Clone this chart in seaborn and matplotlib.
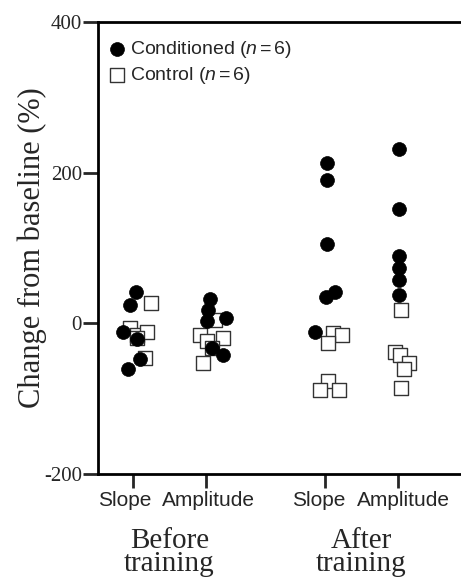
import matplotlib
matplotlib.use("Agg")
import matplotlib.pyplot as plt
import seaborn as sns
import pandas as pd

# values (% change from baseline)
measures = ["Slope", "Amplitude", "Slope", "Amplitude"]
phases = ["Before\ntraining", "After\ntraining"]

cond_before_slope = [41, 24, -12, -21, -48, -60]
cond_before_amp = [32, 18, 3, 7, -33, -42]
cond_after_slope = [213, 190, 105, 41, 35, -11]
cond_after_amp = [232, 152, 89, 73, 57, 37]

ctrl_before_slope = [27, -6, -15, -12, -46, -20]
ctrl_before_amp = [4, -15, -24, -20, -53, -33]
ctrl_after_slope = [-13, -15, -26, -77, -88, -88]
ctrl_after_amp = [18, -38, -42, -53, -60, -86]

# horizontal scatter of each point, in tick spacings
cond_before_slope_dx = [0.04, -0.04, -0.14, 0.05, 0.10, -0.07]
cond_before_amp_dx = [0.05, 0.03, 0.01, 0.27, 0.08, 0.23]
cond_after_slope_dx = [0.03, 0.03, 0.03, 0.14, 0.01, -0.14]
cond_after_amp_dx = [0.02, 0.02, 0.02, 0.02, 0.02, 0.02]

ctrl_before_slope_dx = [0.25, -0.04, 0.05, 0.19, 0.16, 0.05]
ctrl_before_amp_dx = [0.13, -0.08, 0.01, 0.23, -0.04, 0.08]
ctrl_after_slope_dx = [0.11, 0.23, 0.04, 0.04, -0.07, 0.19]
ctrl_after_amp_dx = [0.04, -0.04, 0.03, 0.15, 0.08, 0.04]

tick_pos = [0, 1, 2.63, 3.63]
# the printed labels sit slightly apart from their tick marks
label_pos = [-0.11, 1.04, 2.55, 3.71]


def build(group, vals_list, dx_list):
    rows = []
    for i, (vals, dxs) in enumerate(zip(vals_list, dx_list)):
        for v, d in zip(vals, dxs):
            rows.append({"group": group, "measure": i, "x": tick_pos[i] + d, "value": v})
    return pd.DataFrame(rows)


cond = build("Conditioned",
             [cond_before_slope, cond_before_amp, cond_after_slope, cond_after_amp],
             [cond_before_slope_dx, cond_before_amp_dx, cond_after_slope_dx, cond_after_amp_dx])
ctrl = build("Control",
             [ctrl_before_slope, ctrl_before_amp, ctrl_after_slope, ctrl_after_amp],
             [ctrl_before_slope_dx, ctrl_before_amp_dx, ctrl_after_slope_dx, ctrl_after_amp_dx])

sns.set_style("white")
plt.rcParams["font.family"] = ["Liberation Serif", "DejaVu Serif"]
plt.rcParams["mathtext.fontset"] = "custom"
plt.rcParams["mathtext.it"] = "Liberation Sans:italic"
plt.rcParams["mathtext.rm"] = "Liberation Sans"

fig = plt.figure(figsize=(4.61, 5.79), dpi=100)
ax = fig.add_axes([98 / 461, 1 - 474 / 579, 1 - 98 / 461, (474 - 22) / 579])

sns.scatterplot(data=ctrl, x="x", y="value", marker="s", s=100, color="white",
                edgecolor="#333333", linewidth=1.0, ax=ax, zorder=2,
                label="Control ($n\\,$=$\\,$6)")
sns.scatterplot(data=cond, x="x", y="value", marker="o", s=100, color="black",
                edgecolor="black", linewidth=0.5, ax=ax, zorder=3,
                label="Conditioned ($n\\,$=$\\,$6)")

ax.set_xlim(-0.479, 4.493)
ax.set_ylim(-200, 400)
ax.set_yticks([-200, 0, 200, 400])
ax.set_yticklabels(["-200", "0", "200", "400"], fontsize=15)
ax.set_xticks(tick_pos)
ax.set_xticklabels([])
ax.set_xticks(label_pos, minor=True)
ax.set_xticklabels(measures, minor=True, fontsize=15, family="Liberation Sans")
ax.set_xlabel("")
ax.set_ylabel("Change from baseline (%)", fontsize=22)
ax.yaxis.set_label_coords(-0.14, 0.5)

for side in ["left", "bottom", "top"]:
    ax.spines[side].set_linewidth(2)
    ax.spines[side].set_color("black")
ax.spines["right"].set_visible(False)
ax.tick_params(axis="y", direction="out", length=11, width=2, pad=0.5, left=True)
ax.tick_params(axis="x", which="major", direction="out", length=10, width=2, bottom=True)
ax.tick_params(axis="x", which="minor", length=0, pad=12, bottom=True)

for i, ph in enumerate(phases):
    cx = (tick_pos[2 * i] + tick_pos[2 * i + 1]) / 2
    ax.annotate(ph, xy=(cx, 0), xycoords=("data", "axes fraction"),
                xytext=(0, -39), textcoords="offset points",
                ha="center", va="top", fontsize=21, linespacing=0.85)

handles, labels = ax.get_legend_handles_labels()
leg = ax.legend(handles[::-1], labels[::-1], loc="upper left",
                bbox_to_anchor=(0.03, 0.962), frameon=False,
                prop={"family": "Liberation Sans", "size": 14},
                handlelength=0.8, handletextpad=0.3, labelspacing=0.25,
                borderpad=0, borderaxespad=0)

fig.savefig("out.png", dpi=100)
